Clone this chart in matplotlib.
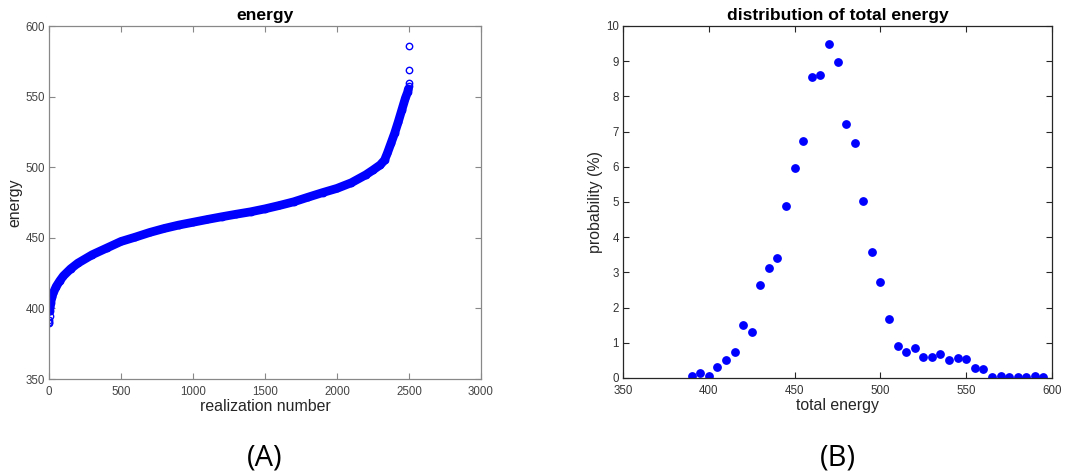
import numpy as np
import matplotlib
matplotlib.use("Agg")
import matplotlib.pyplot as plt
from matplotlib import font_manager

# ---- data: left panel (sorted energies) ----
realization = [1, 2, 3, 4, 5, 8, 12, 20, 30, 50, 75, 100, 150, 200, 300, 400, 500,
               600, 700, 800, 900, 1000, 1100, 1200, 1300, 1400, 1500, 1600, 1700,
               1800, 1900, 2000, 2100, 2200, 2250, 2300, 2330, 2350, 2375, 2400,
               2425, 2450, 2475, 2490, 2496, 2497, 2498, 2499, 2500]
energy = [389.4, 390.5, 391.8, 394.6, 398, 401, 404, 408, 411, 415.5, 419.5, 423,
          428, 432, 438, 442.7, 447.4, 450.5, 453.8, 456.6, 459, 461, 463, 464.9,
          466.7, 468.4, 470.5, 472.9, 475.5, 478.8, 482, 485, 489, 494.6, 498,
          501.6, 505, 510, 517, 524, 532, 540.5, 549, 553, 555.5, 557.5, 559.4,
          569, 586]
band_start, band_end = 4, 45  # points forming the continuous band

# ---- data: right panel (histogram in %) ----
total_energy = [390, 395, 400, 405, 410, 415, 420, 425, 430, 435, 440, 445, 450,
                455, 460, 465, 470, 475, 480, 485, 490, 495, 500, 505, 510, 515,
                520, 525, 530, 535, 540, 545, 550, 555, 560, 565, 570, 575, 580,
                585, 590, 595]
probability = [0.05, 0.13, 0.05, 0.30, 0.50, 0.74, 1.50, 1.30, 2.65, 3.13, 3.41,
               4.90, 5.98, 6.73, 8.54, 8.61, 9.50, 8.98, 7.21, 6.69, 5.02, 3.58,
               2.73, 1.69, 0.90, 0.74, 0.86, 0.61, 0.61, 0.69, 0.50, 0.57, 0.54,
               0.29, 0.25, 0.02, 0.05, 0.02, 0.02, 0.02, 0.05, 0.02]

xticks_a = [0, 500, 1000, 1500, 2000, 2500, 3000]
yticks_a = [350, 400, 450, 500, 550, 600]
xticks_b = [350, 400, 450, 500, 550, 600]
yticks_b = list(range(0, 11))

plt.rcParams['font.family'] = ['Liberation Sans', 'DejaVu Sans']
BLUE = (0, 0, 1)

names = {f.name for f in font_manager.fontManager.ttflist}
panel_font = ['Liberation Sans Narrow'] if 'Liberation Sans Narrow' in names else ['Open Sans']
panel_font = panel_font + ['DejaVu Sans']

fig = plt.figure(figsize=(10.84, 4.76), dpi=100)

# ---------- left ----------
axA = fig.add_axes([49 / 1084, 1 - 379 / 476, 432 / 1084, 353 / 476])
axA.plot(realization[band_start:band_end], energy[band_start:band_end], '-',
         color=BLUE, lw=6.3, solid_capstyle='round')
axA.plot(realization, energy, 'o', mfc='none', mec=BLUE, ms=4.6, mew=1.0)
axA.set_xlim(0, 3000)
axA.set_ylim(350, 600)
axA.set_xticks(xticks_a)
axA.set_yticks(yticks_a)
axA.set_title('energy', fontsize=12.6, fontweight='bold', pad=4)
axA.set_xlabel('realization number', fontsize=11.4, color='#262626', labelpad=1)
axA.set_ylabel('energy', fontsize=11.4, color='#262626', labelpad=2)
for s in axA.spines.values():
    s.set_color('#888888')
    s.set_linewidth(0.9)
axA.tick_params(direction='in', length=4, width=0.8, color='#888888',
                labelsize=8.3, labelcolor='#444444', top=True, right=True, pad=3)
axA.tick_params(axis='x', pad=5)

# ---------- right ----------
axB = fig.add_axes([623 / 1084, 1 - 378 / 476, 429 / 1084, 352 / 476])
axB.plot(total_energy, probability, 'o', color=BLUE, ms=5.3, mec=BLUE)
axB.set_xlim(350, 600)
axB.set_ylim(0, 10)
axB.set_xticks(xticks_b)
axB.set_yticks(yticks_b)
axB.set_title('distribution of total energy', fontsize=12.6, fontweight='bold', pad=4)
axB.set_xlabel('total energy', fontsize=11.4, color='#262626', labelpad=1)
axB.set_ylabel('probability (%)', fontsize=11.4, color='#262626', labelpad=2)
for s in axB.spines.values():
    s.set_color('#262626')
    s.set_linewidth(0.9)
axB.tick_params(direction='in', length=4, width=0.8, color='#262626',
                labelsize=8.3, labelcolor='#333333', top=True, right=True, pad=3)
axB.tick_params(axis='x', pad=5)

fig.text(265 / 1084, 1 - 458 / 476, '(A)', ha='center', va='center',
         fontsize=21, family=panel_font)
fig.text(838 / 1084, 1 - 458 / 476, '(B)', ha='center', va='center',
         fontsize=21, family=panel_font)

fig.savefig('out.png', dpi=100)
